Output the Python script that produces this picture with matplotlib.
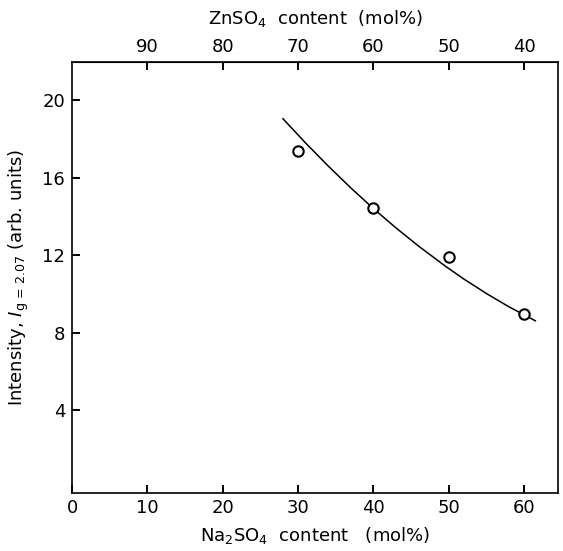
import matplotlib.pyplot as plt
import numpy as np

# measured points (Na2SO4 mol%, intensity)
na_content = [30, 40, 50, 60]
intensity = [17.4, 14.45, 11.9, 8.95]

# hand-drawn trend curve
curve_x = [28.0, 31.0, 34.0, 37.0, 40.0, 43.0, 46.0, 49.6, 52.0, 55.0, 58.0, 61.5]
curve_y = [19.05, 17.80, 16.61, 15.48, 14.41, 13.41, 12.47, 11.42, 10.77, 10.02, 9.33, 8.61]

x_ticks = [0, 10, 20, 30, 40, 50, 60]
y_ticks = [4, 8, 12, 16, 20]
top_ticks = [90, 80, 70, 60, 50, 40]

plt.rcParams['font.family'] = ['DejaVu Sans']
plt.rcParams['mathtext.fontset'] = 'dejavusans'

fig = plt.figure(figsize=(5.63, 5.51), dpi=100)
ax = fig.add_axes([0.128, 0.105, 0.863, 0.783])

ax.plot(curve_x, curve_y, color='black', lw=1.1)
ax.plot(na_content, intensity, 'o', mfc='white', mec='black', mew=1.5, ms=7.5)

ax.set_xlim(0, 64.5)
ax.set_ylim(-0.3, 22)
ax.set_xticks(x_ticks)
ax.set_yticks(y_ticks)
ax.tick_params(direction='in', length=6, width=1.4, labelsize=13, pad=4)
ax.tick_params(axis='y', pad=5)
for s in ax.spines.values():
    s.set_linewidth(1.2)

ax.set_xlabel('Na$_2$SO$_4$  content   (mol%)', fontsize=13, labelpad=6)
ax.set_ylabel('Intensity, $I_{\\rm g\\,=\\,2.07}$ (arb. units)', fontsize=13, labelpad=8)

top = ax.secondary_xaxis('top', functions=(lambda v: 100 - v, lambda v: 100 - v))
top.set_xticks(top_ticks)
top.tick_params(direction='in', length=6, width=1.4, labelsize=13, pad=4)
top.set_xlabel('ZnSO$_4$  content  (mol%)', fontsize=13, labelpad=10)

fig.savefig('out.png', dpi=100)
